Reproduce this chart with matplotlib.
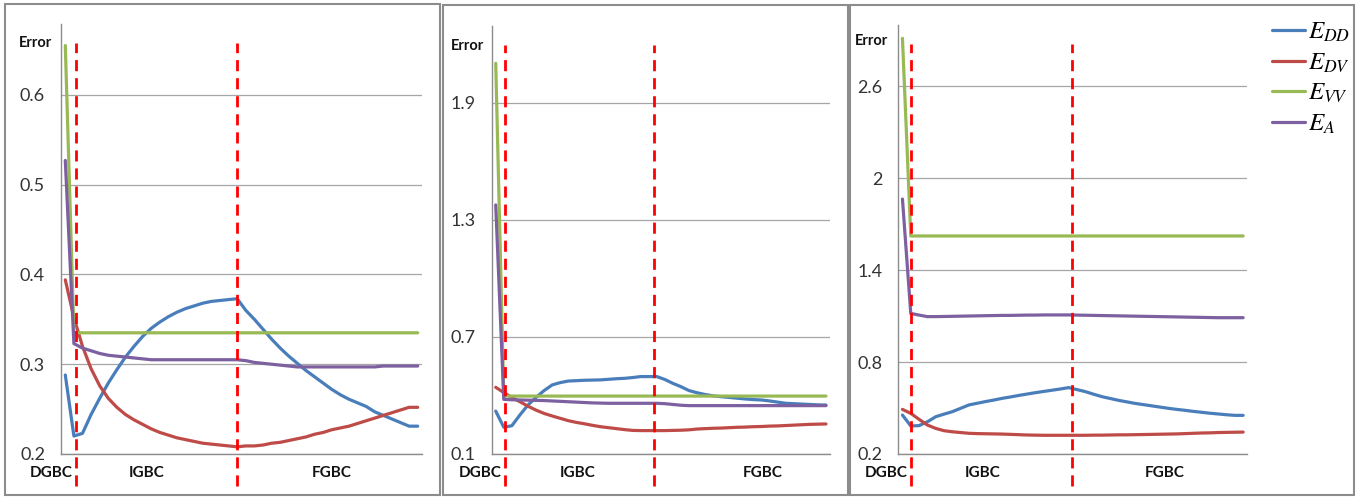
import matplotlib
matplotlib.use("Agg")
import matplotlib.pyplot as plt
from matplotlib.patches import Rectangle
import numpy as np

plt.rcParams['font.family'] = ['Lato', 'DejaVu Sans']
plt.rcParams['mathtext.fontset'] = 'stix'

# iteration index: 0 = DGBC, 1..20 = IGBC, 21..41 = FGBC
n_pts = 42

# panel 1
p1_edd = [0.288, 0.220, 0.223, 0.244, 0.262, 0.279, 0.294, 0.308, 0.320, 0.331,
          0.340, 0.347, 0.353, 0.358, 0.362, 0.365, 0.368, 0.370, 0.371, 0.372,
          0.373, 0.360, 0.350, 0.339, 0.328, 0.318, 0.309, 0.301, 0.293, 0.286,
          0.279, 0.272, 0.266, 0.261, 0.257, 0.253, 0.247, 0.243, 0.239, 0.235,
          0.231, 0.231]
p1_edv = [0.394, 0.352, 0.320, 0.295, 0.276, 0.262, 0.252, 0.244, 0.238, 0.233,
          0.228, 0.224, 0.221, 0.218, 0.216, 0.214, 0.212, 0.211, 0.210, 0.209,
          0.208, 0.209, 0.209, 0.210, 0.212, 0.213, 0.215, 0.217, 0.219, 0.222,
          0.224, 0.227, 0.229, 0.231, 0.234, 0.237, 0.240, 0.243, 0.246, 0.249,
          0.252, 0.252]
p1_evv = [0.655] + [0.335] * 41
p1_ea = [0.527, 0.323, 0.318, 0.315, 0.312, 0.310, 0.309, 0.308, 0.307, 0.306,
         0.305, 0.305, 0.305, 0.305, 0.305, 0.305, 0.305, 0.305, 0.305, 0.305,
         0.305, 0.304, 0.302, 0.301, 0.300, 0.299, 0.298, 0.297, 0.297, 0.297,
         0.297, 0.297, 0.297, 0.297, 0.297, 0.297, 0.297, 0.298, 0.298, 0.298,
         0.298, 0.298]

# panel 2
p2_edd = [0.320, 0.237, 0.245, 0.300, 0.351, 0.390, 0.425, 0.454, 0.466, 0.474,
          0.476, 0.478, 0.479, 0.480, 0.483, 0.486, 0.488, 0.492, 0.497, 0.497,
          0.497, 0.482, 0.462, 0.445, 0.425, 0.414, 0.405, 0.398, 0.394, 0.390,
          0.386, 0.382, 0.379, 0.377, 0.372, 0.366, 0.360, 0.358, 0.356, 0.354,
          0.352, 0.351]
p2_edv = [0.442, 0.415, 0.390, 0.368, 0.345, 0.325, 0.308, 0.295, 0.283, 0.271,
          0.262, 0.255, 0.247, 0.240, 0.235, 0.230, 0.225, 0.221, 0.220, 0.220,
          0.220, 0.220, 0.221, 0.222, 0.224, 0.228, 0.230, 0.232, 0.233, 0.235,
          0.237, 0.238, 0.240, 0.241, 0.243, 0.244, 0.246, 0.248, 0.250, 0.252,
          0.253, 0.254]
p2_evv = [2.103] + [0.397] * 41
p2_ea = [1.377, 0.380, 0.378, 0.377, 0.376, 0.375, 0.374, 0.372, 0.370, 0.368,
         0.366, 0.364, 0.362, 0.361, 0.360, 0.360, 0.360, 0.360, 0.360, 0.360,
         0.360, 0.358, 0.354, 0.350, 0.348, 0.348, 0.348, 0.348, 0.348, 0.348,
         0.348, 0.348, 0.348, 0.348, 0.348, 0.348, 0.348, 0.348, 0.348, 0.348,
         0.348, 0.348]

# panel 3
p3_edd = [0.454, 0.383, 0.385, 0.410, 0.443, 0.460, 0.476, 0.498, 0.520, 0.531,
          0.542, 0.552, 0.563, 0.572, 0.582, 0.591, 0.600, 0.608, 0.616, 0.624,
          0.633, 0.620, 0.607, 0.590, 0.574, 0.562, 0.550, 0.540, 0.530, 0.522,
          0.514, 0.506, 0.498, 0.491, 0.485, 0.478, 0.472, 0.466, 0.461, 0.456,
          0.452, 0.452]
p3_edv = [0.491, 0.465, 0.426, 0.389, 0.367, 0.352, 0.345, 0.340, 0.335, 0.333,
          0.332, 0.331, 0.330, 0.328, 0.326, 0.324, 0.323, 0.322, 0.322, 0.322,
          0.322, 0.322, 0.322, 0.323, 0.323, 0.324, 0.325, 0.325, 0.326, 0.327,
          0.328, 0.329, 0.330, 0.331, 0.333, 0.335, 0.337, 0.338, 0.340, 0.341,
          0.342, 0.343]
p3_evv = [2.911] + [1.622] * 41
p3_ea = [1.863, 1.117, 1.106, 1.096, 1.096, 1.097, 1.098, 1.099, 1.100, 1.101,
         1.102, 1.103, 1.104, 1.104, 1.105, 1.106, 1.106, 1.107, 1.107, 1.107,
         1.107, 1.106, 1.105, 1.104, 1.103, 1.102, 1.101, 1.100, 1.099, 1.098,
         1.097, 1.096, 1.095, 1.094, 1.093, 1.092, 1.091, 1.090, 1.089, 1.089,
         1.089, 1.089]

series_labels = [r'$E_{DD}$', r'$E_{DV}$', r'$E_{VV}$', r'$E_{A}$']
series_colors = ['#4A7EBB', '#BE4B48', '#98B954', '#7D60A0']
phase_labels = ['DGBC', 'IGBC', 'FGBC']

panels = [
    dict(data=[p1_edd, p1_edv, p1_evv, p1_ea], yticks=[0.2, 0.3, 0.4, 0.5, 0.6],
         ylabels=['0.2', '0.3', '0.4', '0.5', '0.6'], ylim=(0.2, 0.679),
         box=(5, 4, 440, 495), ax=(61, 422, 24, 454), vlines=[1.25, 20.0],
         phase_x=[-1.66, 9.5, 31.0], err_x=36, err_y=43),
    dict(data=[p2_edd, p2_edv, p2_evv, p2_ea], yticks=[0.1, 0.7, 1.3, 1.9],
         ylabels=['0.1', '0.7', '1.3', '1.9'], ylim=(0.1, 2.296),
         box=(443, 5, 848, 495), ax=(491.7, 830, 25.7, 454), vlines=[1.19, 19.7],
         phase_x=[-1.95, 10.2, 33.1], err_x=467, err_y=46),
    dict(data=[p3_edd, p3_edv, p3_evv, p3_ea], yticks=[0.2, 0.8, 1.4, 2.0, 2.6],
         ylabels=['0.2', '0.8', '1.4', '2', '2.6'], ylim=(0.2, 2.998),
         box=(850, 5, 1354, 495), ax=(898.3, 1247.3, 25, 454), vlines=[0.99, 20.4],
         phase_x=[-2.0, 9.6, 31.6], err_x=871, err_y=41),
]

W, H = 1372, 497
fig = plt.figure(figsize=(W / 100, H / 100), dpi=100)
fig.patch.set_facecolor('white')

x = np.arange(n_pts)
handles = []
for p in panels:
    bx0, by0, bx1, by1 = p['box']
    fig.patches.append(Rectangle((bx0 / W, 1 - by1 / H), (bx1 - bx0) / W, (by1 - by0) / H,
                                 transform=fig.transFigure, fill=False,
                                 edgecolor='#8c8c8c', linewidth=1.5))
    l, r, t, b = p['ax']
    ax = fig.add_axes([l / W, 1 - b / H, (r - l) / W, (b - t) / H])
    ax.set_facecolor('none')
    handles = []
    for ys, c, lab in zip(p['data'], series_colors, series_labels):
        h, = ax.plot(x, ys, color=c, lw=2.3, label=lab, solid_capstyle='round', zorder=3)
        handles.append(h)
    ax.set_xlim(-0.5, n_pts - 0.5)
    ax.set_ylim(*p['ylim'])
    ax.set_yticks(p['yticks'])
    ax.set_yticklabels(p['ylabels'])
    ax.set_xticks([])
    ax.tick_params(axis='y', length=0, pad=11.5, labelsize=13, labelcolor='#333333')
    ax.grid(axis='y', color='#a6a6a6', lw=0.9)
    ax.set_axisbelow(True)
    for s in ['top', 'right']:
        ax.spines[s].set_visible(False)
    for s in ['left', 'bottom']:
        ax.spines[s].set_color('#8c8c8c')
        ax.spines[s].set_linewidth(1.0)
    for vx in p['vlines']:
        ax.plot([vx, vx], [p['ylim'][0] - 0.075 * (p['ylim'][1] - p['ylim'][0]),
                           p['ylim'][0] + 0.955 * (p['ylim'][1] - p['ylim'][0])],
                color='#ff0000', lw=2.0, ls=(0, (4, 2.5)), clip_on=False, zorder=4)
    for px, lab in zip(p['phase_x'], phase_labels):
        ax.text(px, -0.045, lab, transform=ax.get_xaxis_transform(), ha='center',
                va='center', fontsize=11, fontweight='bold', color='#111111')
    fig.text(p['err_x'] / W, 1 - p['err_y'] / H, 'Error', ha='center', va='center',
             fontsize=10.5, fontweight='bold', color='#111111')

fig.legend(handles, series_labels, loc='upper left', bbox_to_anchor=(1262 / W, 1 - 10 / H),
           frameon=False, fontsize=18, handlelength=1.3, handletextpad=0.15,
           labelspacing=0.25, borderaxespad=0)

fig.savefig('out.png', dpi=100, facecolor='white')
